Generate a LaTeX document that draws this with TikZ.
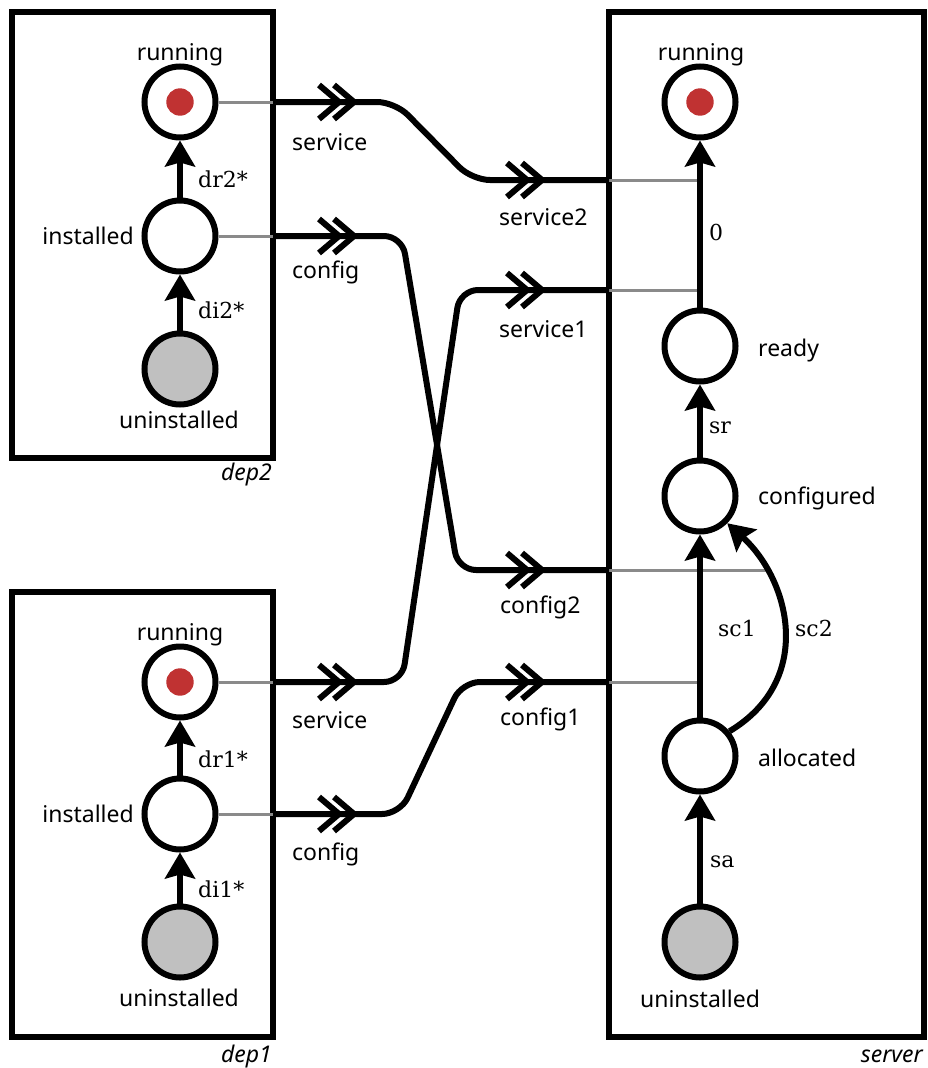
\documentclass[tikz,border=0pt]{standalone}
\usepackage{fontspec}
\setmainfont{Noto Sans}
\newfontfamily\lblfont{DejaVu Serif}
\usetikzlibrary{arrows.meta}
\definecolor{dotred}{HTML}{C03232}
\definecolor{initgray}{HTML}{C0C0C0}
\definecolor{linkgray}{HTML}{8A8A8A}
\newcommand\chevs[1]{\draw[chev] (#1) ++(-35,-17) -- ++(20,17) -- ++(-20,17) (#1) ++(-20,-17) -- ++(20,17) -- ++(-20,17);}
\begin{document}
\begin{tikzpicture}[x=1pt,y=-1pt,
  state/.style={circle, draw, line width=6pt, minimum size=71pt, inner sep=0pt, fill=white},
  initst/.style={state, fill=initgray},
  boxst/.style={draw, line width=5.5pt},
  arr/.style={line width=6pt, -{Stealth[length=26pt,width=30pt,inset=4pt]}},
  conn/.style={line width=6pt, rounded corners=18pt},
  glink/.style={line width=3pt, draw=linkgray},
  chev/.style={line width=6pt, line join=miter},
  txt/.style={font=\fontsize{23}{28}\selectfont, inner sep=0pt},
  elbl/.style={font=\lblfont\fontsize{22}{26}\selectfont, inner sep=0pt, anchor=base west},
  boxlbl/.style={font=\itshape\fontsize{23}{28}\selectfont, anchor=base east, inner sep=0pt}]
\useasboundingbox (0,0) rectangle (928,1068);

% boxes
\draw[boxst] (12,12) rectangle (273,458);
\draw[boxst] (12,592) rectangle (273,1037);
\draw[boxst] (609,12) rectangle (924,1037);
\node[boxlbl] (l2) at (272,480) {dep2};
\node[boxlbl] (l1) at (272,1062) {dep1};
\node[boxlbl] (ls) at (923,1062) {server};

% dep2 states
\node[state] (d2r) at (180,102) {};
\node[state] (d2i) at (180,236) {};
\node[initst] (d2u) at (180,369) {};
\fill[dotred] (d2r) circle (13.7);
\node[txt, anchor=base] (t2r) at (180,60) {running};
\node[txt, anchor=base east] (t2i) at (134,244) {installed};
\node[txt, anchor=base] (t2u) at (179,428) {uninstalled};

% dep1 states
\node[state] (d1r) at (180,682) {};
\node[state] (d1i) at (180,814) {};
\node[initst] (d1u) at (180,942) {};
\fill[dotred] (d1r) circle (13.7);
\node[txt, anchor=base] (t1r) at (180,640) {running};
\node[txt, anchor=base east] (t1i) at (134,822) {installed};
\node[txt, anchor=base] (t1u) at (179,1006) {uninstalled};

% server states
\node[state] (sr) at (700,102) {};
\node[state] (srd) at (700,346) {};
\node[state] (scf) at (700,496) {};
\node[state] (sal) at (700,756) {};
\node[initst] (su) at (700,942) {};
\fill[dotred] (sr) circle (13.7);
\node[txt, anchor=base] (tsr) at (701,60) {running};
\node[txt, anchor=base west] (tsrd) at (758,356) {ready};
\node[txt, anchor=base west] (tscf) at (758,504) {configured};
\node[txt, anchor=base west] (tsal) at (758,766) {allocated};
\node[txt, anchor=base] (tsu) at (700,1007) {uninstalled};

% port coordinates
\coordinate (d2sE) at (273,102);
\coordinate (d2cE) at (273,236);
\coordinate (d1sE) at (273,682);
\coordinate (d1cE) at (273,814);
\coordinate (s2E) at (609,180);
\coordinate (s1E) at (609,290);
\coordinate (c2E) at (609,570);
\coordinate (c1E) at (609,682);
\coordinate (g2) at (700,180);
\coordinate (g1) at (700,290);
\coordinate (g3) at (768,570);
\coordinate (g4) at (700,682);
\coordinate (d2sP) at (354,102);
\coordinate (d2cP) at (354,236);
\coordinate (d1sP) at (354,682);
\coordinate (d1cP) at (354,814);
\coordinate (s2P) at (542,180);
\coordinate (s1P) at (542,290);
\coordinate (c2P) at (542,570);
\coordinate (c1P) at (542,682);

% gray links
\draw[glink] (d2r) -- (d2sE);
\draw[glink] (d2i) -- (d2cE);
\draw[glink] (d1r) -- (d1sE);
\draw[glink] (d1i) -- (d1cE);
\draw[glink] (s2E) -- (g2);
\draw[glink] (s1E) -- (g1);
\draw[glink] (c2E) -- (g3);
\draw[glink] (c1E) -- (g4);

% connectors
\draw[conn] (d2sE) -- (395,102) -- (472,180) -- (s2E);
\draw[conn] (d2cE) -- (402,236) -- (458,570) -- (c2E);
\draw[conn] (d1sE) -- (402,682) -- (460,290) -- (s1E);
\draw[conn] (d1cE) -- (400,814) -- (462,682) -- (c1E);

% port chevrons
\chevs{d2sP}
\chevs{d2cP}
\chevs{d1sP}
\chevs{d1cP}
\chevs{s2P}
\chevs{s1P}
\chevs{c2P}
\chevs{c1P}

% port labels
\node[txt, anchor=base west] (p2s) at (292,150) {service};
\node[txt, anchor=base west] (p2c) at (292,278) {config};
\node[txt, anchor=base west] (p1s) at (292,728) {service};
\node[txt, anchor=base west] (p1c) at (292,860) {config};
\node[txt, anchor=base west] (ps2) at (499,225) {service2};
\node[txt, anchor=base west] (ps1) at (499,337) {service1};
\node[txt, anchor=base west] (pc2) at (500,613) {config2};
\node[txt, anchor=base west] (pc1) at (500,725) {config1};

% transitions
\draw[arr] (d2i) -- (d2r);
\draw[arr] (d2u) -- (d2i);
\draw[arr] (d1i) -- (d1r);
\draw[arr] (d1u) -- (d1i);
\draw[arr] (srd) -- (sr);
\draw[arr] (scf) -- (srd);
\draw[arr] (sal) -- (scf);
\draw[arr] (sal.40) .. controls (815,680) and (790,580) .. (scf.-45);
\draw[arr] (su) -- (sal);

% transition labels
\node[elbl] (e1) at (198,187) {dr2*};
\node[elbl] (e2) at (198,318) {di2*};
\node[elbl] (e3) at (198,767) {dr1*};
\node[elbl] (e4) at (198,897) {di1*};
\node[elbl] (e5) at (709,240) {0};
\node[elbl] (e6) at (709,433) {sr};
\node[elbl] (e7) at (718,636) {sc1};
\node[elbl] (e8) at (795,636) {sc2};
\node[elbl] (e9) at (710,867) {sa};
\end{tikzpicture}
\end{document}
